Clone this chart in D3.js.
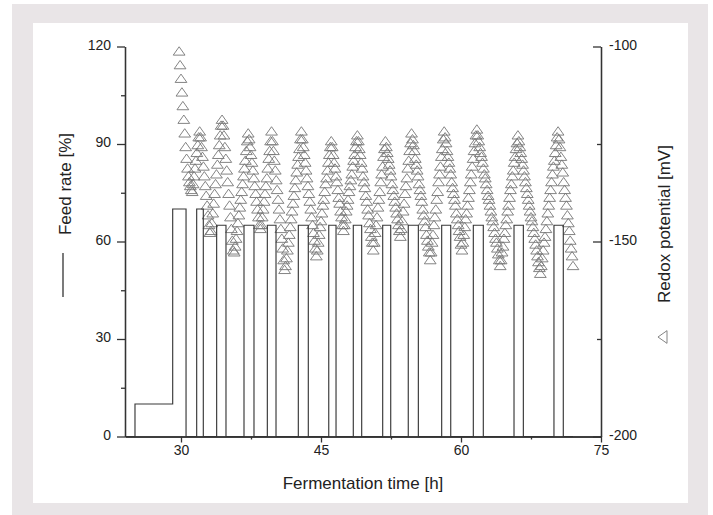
<!DOCTYPE html>
<html lang="en">
<head>
  <meta charset="UTF-8">
  <title>Feed rate and redox potential during fermentation</title>
  <script src="https://d3js.org/d3.v7.min.js"></script>
  <style>
    body { margin: 0; background: #fff; }
    text { font-family: "Liberation Sans", Arial, sans-serif; fill: #222; }
    .axis path, .axis line { stroke: #333; stroke-width: 1.3px; }
    .axis text { font-size: 14px; }
    .title { font-size: 17px; }
    .feed { fill: none; stroke: #383838; stroke-width: 1.15px; }
    .redox { fill: none; stroke: #777; stroke-width: 1px; }
  </style>
</head>
<body>

<div id="chart"></div>

<script>

// feed pump: switching times [h] and the feed rate [%] from that time on
var feedTime = [24, 25.07, 29.11, 30.54, 31.68, 32.39, 33.82, 34.82, 36.75, 37.82, 39.25, 40.18,
                42.57, 43.64, 45.83, 46.61, 48.46, 49.36, 51.61, 52.47, 54.35, 55.43,
                57.93, 58.9, 61.32, 62.39, 65.68, 66.68, 69.96, 70.96, 72];
var feedRate = [0, 10, 70, 0, 70, 0, 65, 0, 65, 0, 65, 0,
                65, 0, 65, 0, 65, 0, 65, 0, 65, 0,
                65, 0, 65, 0, 65, 0, 65, 0, 0];

// redox potential [mV], logged every 0.1 h from 29.8 h on
var redoxStart = 29.8,
    redoxStep = 0.1;
var redoxMv = [
  -101.5, -105, -108.5, -112, -115.5, -119, -122.5, -126, -129, -131.5, -133.5, -135, -136, -137, -137.5,
  -135.5, -133.5, -131.5, -129.5, -127.5, -125.5, -123.5, -122,
  -123.5, -126, -128.5, -131, -133.5, -136, -138.5, -141, -143.5, -146, -148,
  -147.5, -145.5, -143, -140.5, -138, -135.5, -133, -130.5, -128, -125.5, -123, -120.5, -119,
  -120.5, -123, -126, -129, -132, -135, -138, -141, -144, -147, -150, -152.5,
  -153, -151.5, -149.5, -147.5, -145.5, -143.5, -141.5, -139.5, -137.5, -135.5, -133.5, -131.5, -129.5, -127, -124.5, -122.5,
  -124, -126, -128, -130, -132, -134, -136, -138, -140, -142, -144, -146, -147,
  -146, -144, -142, -140, -138, -136, -134, -131.5, -129, -127, -124.5, -122,
  -124.5, -127, -129.5, -132, -134.5, -137, -139.5, -142, -144.5, -147, -149.5, -152, -155, -157.5,
  -156.5, -154.5, -152.5, -150.5, -148.5, -146.5, -144.5, -142.5, -140.5, -138.5, -136.5, -134.5, -132.5, -130.5, -128.5, -126.5, -124, -122,
  -124, -126, -128, -130, -132, -134, -136, -138, -140, -142, -144, -146, -148, -150, -152, -154,
  -152.5, -150.5, -148.5, -146.5, -145, -143, -141, -139.5, -137.5, -135.5, -134, -132, -130, -128, -126, -124.5,
  -126, -128, -130, -131.5, -133.5, -135, -137, -139, -140.5, -142.5, -144, -146, -147.5,
  -146, -144.5, -142.5, -141, -139.5, -137.5, -136, -134.5, -133, -131, -129.5, -128, -126, -124.5, -123,
  -124.5, -126.5, -128, -130, -131.5, -133.5, -135, -136.5, -138.5, -140, -142, -143.5, -145.5, -147, -149, -150.5, -152.5,
  -150.5, -148, -146, -144, -141.5, -139.5, -137.5, -135, -133, -131, -128.5, -126.5, -124.5,
  -126, -127.5, -129, -130.5, -132, -133.5, -135.5, -137, -138.5, -140, -141.5, -143, -144.5, -146, -147.5, -149,
  -147, -145, -142.5, -140.5, -138, -136, -134, -131.5, -129.5, -127, -125, -122.5,
  -124, -125.5, -127, -129, -130.5, -132, -133.5, -135.5, -137, -138.5, -140, -142, -143.5, -145, -146.5, -148.5, -150, -151.5, -153, -155,
  -153, -150.5, -148.5, -146, -144, -142, -139.5, -137.5, -135, -133, -131, -128.5, -126.5, -124, -122,
  -123.5, -125, -127, -128.5, -130, -131.5, -133, -135, -136.5, -138, -139.5, -141, -143, -144.5, -146, -147.5, -149, -151, -152.5,
  -150.5, -148.5, -146.5, -144.5, -143, -141, -139, -137, -135, -133, -131, -129, -127, -125, -123, -121.5,
  -123, -124.5, -126, -127.5, -128.5, -130, -131.5, -133, -134, -135.5, -137, -138.5, -139.5, -141, -142.5, -144, -145, -146.5, -148, -149.5, -150.5, -152, -153.5, -155, -156.5,
  -155, -153, -151.5, -149.5, -148, -146, -144.5, -142.5, -141, -139, -137, -135.5, -133.5, -132, -130, -128.5, -126.5, -125, -123,
  -124.5, -126, -127.5, -129, -130.5, -132, -133.5, -135, -136.5, -138, -139.5, -141, -142.5, -144, -145, -146.5, -148, -149.5, -151, -152.5, -154, -155.5, -157, -158.5,
  -156.5, -154.5, -152.5, -150.5, -149, -147, -145, -143, -141, -139, -137, -135, -133, -131, -129.5, -127.5, -125.5, -123.5, -122,
  -124, -126, -128.5, -130.5, -132.5, -135, -137, -139, -141, -143.5, -145.5, -147.5, -150, -152, -154, -156.5
];

var xTicks = [30, 45, 60, 75],
    xMinor = [37.5, 52.5, 67.5],
    feedTicks = [0, 30, 60, 90, 120],
    feedMinor = [15, 45, 75, 105],
    redoxTicks = [-200, -150, -100],
    redoxMinor = [-175, -125];

var width = 713,
    height = 515;
var plot = {left: 125, right: 601, top: 46.5, bottom: 436.5};

var svg = d3.select("#chart").append("svg")
    .attr("width", width)
    .attr("height", height);

// grey frame with the white panel inside
svg.append("rect")
    .attr("x", 12).attr("y", 4)
    .attr("width", 696).attr("height", 511)
    .attr("fill", "#e9e5e7");
svg.append("rect")
    .attr("x", 33).attr("y", 23)
    .attr("width", 655).attr("height", 480)
    .attr("fill", "#fff");

var x = d3.scaleLinear()
    .domain([24, 75])
    .range([plot.left, plot.right]);

var yFeed = d3.scaleLinear()
    .domain([0, 120])
    .range([plot.bottom, plot.top]);

var yRedox = d3.scaleLinear()
    .domain([-200, -100])
    .range([plot.bottom, plot.top]);

// redox points as open triangles
var tri = d3.symbol().type(d3.symbolTriangle).size(60);

svg.append("g")
  .selectAll("path")
  .data(redoxMv)
  .join("path")
    .attr("class", "redox")
    .attr("d", tri)
    .attr("transform", function(d, i) {
      return "translate(" + x(redoxStart + i * redoxStep) + "," + yRedox(d) + ") scale(1,0.82)";
    });

// feed rate as a step line
var line = d3.line()
    .curve(d3.curveStepAfter)
    .x(function(d) { return x(d[0]); })
    .y(function(d) { return yFeed(d[1]); });

svg.append("path")
    .datum(d3.zip(feedTime, feedRate))
    .attr("class", "feed")
    .attr("d", line);

// plain hyphen for the negative labels, like the original
var plain = function(d) { return String(d); };

// axes
svg.append("g")
    .attr("class", "axis")
    .attr("transform", "translate(0," + plot.bottom + ")")
    .call(d3.axisBottom(x).tickValues(xTicks).tickSize(6).tickSizeOuter(0).tickPadding(3).tickFormat(plain));

svg.append("g")
    .attr("class", "axis")
    .attr("transform", "translate(0," + plot.bottom + ")")
    .call(d3.axisBottom(x).tickValues(xMinor).tickSize(3).tickSizeOuter(0).tickFormat(""));

svg.append("g")
    .attr("class", "axis")
    .attr("transform", "translate(" + plot.left + ",0)")
    .call(d3.axisLeft(yFeed).tickValues(feedTicks).tickSize(8).tickSizeOuter(0).tickPadding(6).tickFormat(plain))
  .selectAll("text")
    .attr("dy", "0.2em");

svg.append("g")
    .attr("class", "axis")
    .attr("transform", "translate(" + plot.left + ",0)")
    .call(d3.axisLeft(yFeed).tickValues(feedMinor).tickSize(4).tickSizeOuter(0).tickFormat(""));

// right axis: ticks point into the plot, labels outside
svg.append("g")
    .attr("class", "axis")
    .attr("transform", "translate(" + plot.right + ",0)")
    .call(d3.axisRight(yRedox).tickValues(redoxTicks).tickSize(-8).tickSizeOuter(0).tickPadding(8).tickFormat(plain))
  .selectAll("text")
    .attr("dy", "0.2em");

svg.append("g")
    .attr("class", "axis")
    .attr("transform", "translate(" + plot.right + ",0)")
    .call(d3.axisRight(yRedox).tickValues(redoxMinor).tickSize(-4).tickSizeOuter(0).tickFormat(""));

// titles
svg.append("text")
    .attr("class", "title")
    .attr("x", (plot.left + plot.right) / 2)
    .attr("y", 489)
    .attr("text-anchor", "middle")
    .text("Fermentation time [h]");

svg.append("text")
    .attr("class", "title")
    .attr("transform", "translate(65,184) rotate(-90)")
    .attr("dy", "0.35em")
    .attr("text-anchor", "middle")
    .text("Feed rate [%]");

svg.append("line")
    .attr("x1", 63).attr("x2", 63)
    .attr("y1", 253).attr("y2", 297)
    .attr("stroke", "#333")
    .attr("stroke-width", 1.3);

svg.append("text")
    .attr("class", "title")
    .attr("transform", "translate(664,224) rotate(-90)")
    .attr("dy", "0.35em")
    .attr("text-anchor", "middle")
    .text("Redox potential [mV]");

svg.append("path")
    .attr("class", "redox")
    .attr("d", d3.symbol().type(d3.symbolTriangle).size(70))
    .attr("transform", "translate(664,337) rotate(-90) scale(1,0.82)");

</script>

</body>
</html>
